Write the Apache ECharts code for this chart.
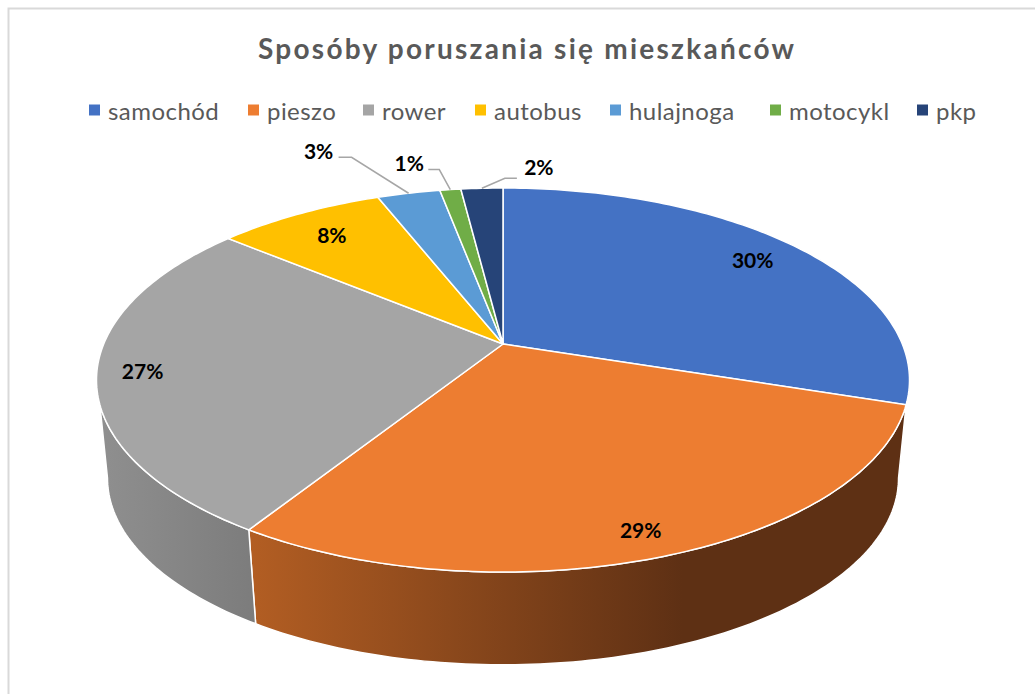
<!DOCTYPE html>
<html>
<head>
<meta charset="utf-8">
<title>Sposóby poruszania się mieszkańców</title>
<script src="https://cdn.jsdelivr.net/npm/echarts@6/dist/echarts.min.js"></script>
<style>
html, body { margin: 0; padding: 0; background: #fff; }
#main { width: 1035px; height: 694px; }
</style>
</head>
<body>
<div id="main"></div>
<script>
const titleText = 'Sposóby poruszania się mieszkańców'
const categories = ['samochód', 'pieszo', 'rower', 'autobus', 'hulajnoga', 'motocykl', 'pkp']
const shares = [30, 29, 27, 8, 3, 1, 2]
const colors = ['#4472C4', '#ED7D31', '#A5A5A5', '#FFC000', '#5B9BD5', '#70AD47', '#264478']
const legendLeft = [84, 243, 358, 470, 605, 765, 912]

// rzut perspektywiczny kola na ekran
const apex = { x: 503, y: 344 }
const spanX = 399.3
const spanY = 185.25
const persp = 0.1875
const bottomScale = 0.973
const bottomDrop = 99
// zakres widocznej sciany bocznej (stopnie)
const wallTop = [108, 252]
const wallBottom = [100.8, 259.2]

// etykiety w srodku plasterka: promien i korekta w pikselach
const labelRadius = [0.845, 0.9, 0.89, 0.82, null, null, null]
const labelShift = [[0, 0], [-7, -1], [0, 0], [0, 0]]
// etykiety na zewnatrz: przesuniecia od krawedzi
const outerLabel = {
  4: { text: [-90, -43], knee: [-57, -36], end: [-70, -36] },
  5: { text: [-41, -27], knee: [-11, -20], end: [-22, -20] },
  6: { text: [57, -22], knee: [23, -10], end: [35, -10] }
}

const total = shares.reduce((a, b) => a + b, 0)
const starts = []
shares.reduce((sum, v, i) => {
  starts[i] = sum
  return sum + v
}, 0)
const toDeg = v => v / total * 360

function project (deg, r) {
  const t = deg * Math.PI / 180
  const x = Math.sin(t) * r
  const y = Math.cos(t) * r
  const d = 1 + persp * y
  return [apex.x + spanX * x / d, apex.y - spanY * y / d]
}
function projectBottom (deg) {
  const p = project(deg, 1)
  return [apex.x + (p[0] - apex.x) * bottomScale, apex.y + bottomDrop + (p[1] - apex.y) * bottomScale]
}
function arc (fn, from, to) {
  const pts = []
  const n = Math.max(2, Math.ceil(Math.abs(to - from)))
  for (let i = 0; i <= n; i++) pts.push(fn(from + (to - from) * i / n))
  return pts
}
function wallFill (i) {
  if (i === 1) {
    return {
      type: 'linear', x: 0, y: 0, x2: 1, y2: 0,
      colorStops: [{ offset: 0, color: '#B35E23' }, { offset: 0.66, color: '#5E3014' }, { offset: 1, color: '#5E3014' }]
    }
  }
  return {
    type: 'linear', x: 0, y: 0, x2: 1, y2: 0,
    colorStops: [{ offset: 0, color: '#8F8F8F' }, { offset: 1, color: '#7C7C7C' }]
  }
}

function renderSlice (params, api) {
  const i = params.seriesIndex
  const from = toDeg(starts[i])
  const to = toDeg(starts[i] + api.value(0))
  const mid = (from + to) / 2
  const children = []

  // sciana boczna
  const topFrom = Math.max(from, wallTop[0])
  const topTo = Math.min(to, wallTop[1])
  if (topTo - topFrom > 0.01) {
    const botFrom = from <= wallTop[0] ? wallBottom[0] : from
    const botTo = to >= wallTop[1] ? wallBottom[1] : to
    children.push({
      type: 'polygon',
      z2: 1,
      shape: { points: arc(d => project(d, 1), topFrom, topTo).concat(arc(projectBottom, botTo, botFrom)) },
      style: { fill: wallFill(i), stroke: '#fff', lineWidth: 1.5 }
    })
  }

  // gorna powierzchnia
  children.push({
    type: 'polygon',
    z2: 10,
    shape: { points: [[apex.x, apex.y]].concat(arc(d => project(d, 1), from, to)) },
    style: { fill: colors[i], stroke: '#fff', lineWidth: 1.5 }
  })

  const label = api.value(0) + '%'
  const font = 'bold 21px Lato'
  if (labelRadius[i]) {
    const p = project(mid, labelRadius[i])
    children.push({
      type: 'text', z2: 30,
      style: { text: label, x: p[0] + labelShift[i][0], y: p[1] + labelShift[i][1], align: 'center', verticalAlign: 'middle', font: font, fill: '#000' }
    })
  } else {
    const rim = project(mid, 1)
    const o = outerLabel[i]
    const at = d => [rim[0] + d[0], rim[1] + d[1]]
    children.push({
      type: 'polyline', z2: 20,
      shape: { points: [rim, at(o.knee), at(o.end)] },
      style: { fill: 'none', stroke: '#A6A6A6', lineWidth: 1.5 }
    })
    const t = at(o.text)
    children.push({
      type: 'text', z2: 30,
      style: { text: label, x: t[0], y: t[1], align: 'center', verticalAlign: 'middle', font: font, fill: '#000' }
    })
  }
  return { type: 'group', children: children }
}

const myChart = echarts.init(document.getElementById('main'), null, { renderer: 'svg' })
const option = {
  animation: false,
  backgroundColor: '#fff',
  title: {
    text: titleText,
    left: 253,
    top: 29,
    textStyle: { fontFamily: 'Lato', fontSize: 28, fontWeight: 'bold', color: '#595959' }
  },
  legend: categories.map((name, i) => ({
    data: [name],
    left: legendLeft[i],
    top: 93,
    icon: 'rect',
    itemWidth: 11,
    itemHeight: 11,
    textStyle: { fontFamily: 'Lato', fontSize: 24, color: '#595959', padding: [0, 0, 0, 3] }
  })),
  graphic: [{
    type: 'rect',
    silent: true,
    shape: { x: 8.5, y: 8.5, width: 1100, height: 800 },
    style: { fill: 'none', stroke: '#D9D9D9', lineWidth: 2 }
  }],
  series: categories.map((name, i) => ({
    name: name,
    type: 'custom',
    coordinateSystem: 'none',
    itemStyle: { color: colors[i] },
    renderItem: renderSlice,
    data: [shares[i]]
  }))
}
option && myChart.setOption(option)

// rozstrzelone litery jak w Excelu
function spaceLetters () {
  document.querySelectorAll('#main svg text').forEach(el => {
    if (el.textContent === titleText) el.style.letterSpacing = '2.25px'
    if (categories.indexOf(el.textContent) >= 0) el.style.letterSpacing = '0.45px'
  })
}
myChart.on('finished', spaceLetters)
spaceLetters()
</script>
</body>
</html>
